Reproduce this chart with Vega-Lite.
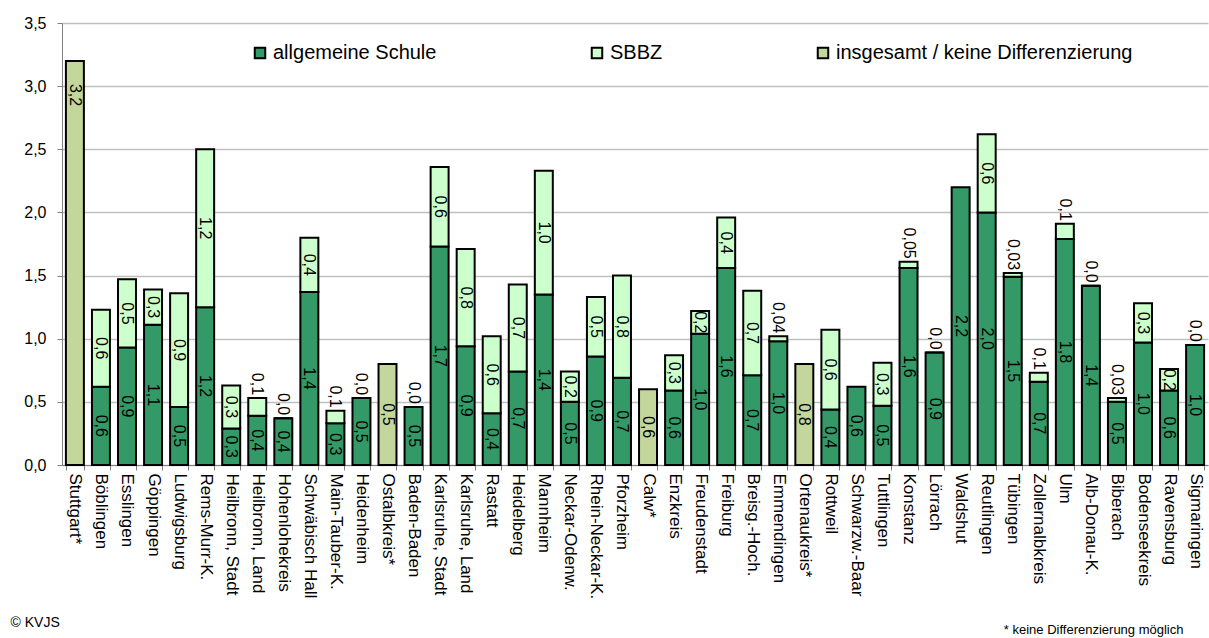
{
  "$schema": "https://vega.github.io/schema/vega-lite/v6.json",
  "autosize": "none",
  "width": 1146,
  "height": 442,
  "padding": {"left": 62, "top": 23, "right": 1, "bottom": 173},
  "background": "white",
  "config": {
    "view": {"stroke": null},
    "font": "Liberation Sans",
    "text": {"font": "Liberation Sans"}
  },
  "data": {
    "values": [
      {"k": "Stuttgart*", "t": "insgesamt / keine Differenzierung", "v": 3.2, "l": "3,2"},
      {"k": "Böblingen", "t": "allgemeine Schule", "v": 0.62, "l": "0,6"},
      {"k": "Böblingen", "t": "SBBZ", "v": 0.61, "l": "0,6"},
      {"k": "Esslingen", "t": "allgemeine Schule", "v": 0.93, "l": "0,9"},
      {"k": "Esslingen", "t": "SBBZ", "v": 0.54, "l": "0,5"},
      {"k": "Göppingen", "t": "allgemeine Schule", "v": 1.11, "l": "1,1"},
      {"k": "Göppingen", "t": "SBBZ", "v": 0.28, "l": "0,3"},
      {"k": "Ludwigsburg", "t": "allgemeine Schule", "v": 0.46, "l": "0,5"},
      {"k": "Ludwigsburg", "t": "SBBZ", "v": 0.9, "l": "0,9"},
      {"k": "Rems-Murr-K.", "t": "allgemeine Schule", "v": 1.25, "l": "1,2"},
      {"k": "Rems-Murr-K.", "t": "SBBZ", "v": 1.25, "l": "1,2"},
      {"k": "Heilbronn, Stadt", "t": "allgemeine Schule", "v": 0.29, "l": "0,3"},
      {"k": "Heilbronn, Stadt", "t": "SBBZ", "v": 0.34, "l": "0,3"},
      {"k": "Heilbronn, Land", "t": "allgemeine Schule", "v": 0.39, "l": "0,4"},
      {"k": "Heilbronn, Land", "t": "SBBZ", "v": 0.14, "l": "0,1"},
      {"k": "Hohenlohekreis", "t": "allgemeine Schule", "v": 0.37, "l": "0,4"},
      {"k": "Hohenlohekreis", "t": "SBBZ", "v": 0, "l": "0,0"},
      {"k": "Schwäbisch Hall", "t": "allgemeine Schule", "v": 1.37, "l": "1,4"},
      {"k": "Schwäbisch Hall", "t": "SBBZ", "v": 0.43, "l": "0,4"},
      {"k": "Main-Tauber-K.", "t": "allgemeine Schule", "v": 0.33, "l": "0,3"},
      {"k": "Main-Tauber-K.", "t": "SBBZ", "v": 0.1, "l": "0,1"},
      {"k": "Heidenheim", "t": "allgemeine Schule", "v": 0.53, "l": "0,5"},
      {"k": "Heidenheim", "t": "SBBZ", "v": 0, "l": "0,0"},
      {"k": "Ostalbkreis*", "t": "insgesamt / keine Differenzierung", "v": 0.8, "l": "0,5"},
      {"k": "Baden-Baden", "t": "allgemeine Schule", "v": 0.46, "l": "0,5"},
      {"k": "Baden-Baden", "t": "SBBZ", "v": 0, "l": "0,0"},
      {"k": "Karlsruhe, Stadt", "t": "allgemeine Schule", "v": 1.73, "l": "1,7"},
      {"k": "Karlsruhe, Stadt", "t": "SBBZ", "v": 0.63, "l": "0,6"},
      {"k": "Karlsruhe, Land", "t": "allgemeine Schule", "v": 0.94, "l": "0,9"},
      {"k": "Karlsruhe, Land", "t": "SBBZ", "v": 0.77, "l": "0,8"},
      {"k": "Rastatt", "t": "allgemeine Schule", "v": 0.41, "l": "0,4"},
      {"k": "Rastatt", "t": "SBBZ", "v": 0.61, "l": "0,6"},
      {"k": "Heidelberg", "t": "allgemeine Schule", "v": 0.74, "l": "0,7"},
      {"k": "Heidelberg", "t": "SBBZ", "v": 0.69, "l": "0,7"},
      {"k": "Mannheim", "t": "allgemeine Schule", "v": 1.35, "l": "1,4"},
      {"k": "Mannheim", "t": "SBBZ", "v": 0.98, "l": "1,0"},
      {"k": "Neckar-Odenw.", "t": "allgemeine Schule", "v": 0.5, "l": "0,5"},
      {"k": "Neckar-Odenw.", "t": "SBBZ", "v": 0.24, "l": "0,2"},
      {"k": "Rhein-Neckar-K.", "t": "allgemeine Schule", "v": 0.86, "l": "0,9"},
      {"k": "Rhein-Neckar-K.", "t": "SBBZ", "v": 0.47, "l": "0,5"},
      {"k": "Pforzheim", "t": "allgemeine Schule", "v": 0.69, "l": "0,7"},
      {"k": "Pforzheim", "t": "SBBZ", "v": 0.81, "l": "0,8"},
      {"k": "Calw*", "t": "insgesamt / keine Differenzierung", "v": 0.6, "l": "0,6"},
      {"k": "Enzkreis", "t": "allgemeine Schule", "v": 0.59, "l": "0,6"},
      {"k": "Enzkreis", "t": "SBBZ", "v": 0.28, "l": "0,3"},
      {"k": "Freudenstadt", "t": "allgemeine Schule", "v": 1.04, "l": "1,0"},
      {"k": "Freudenstadt", "t": "SBBZ", "v": 0.18, "l": "0,2"},
      {"k": "Freiburg", "t": "allgemeine Schule", "v": 1.56, "l": "1,6"},
      {"k": "Freiburg", "t": "SBBZ", "v": 0.4, "l": "0,4"},
      {"k": "Breisg.-Hoch.", "t": "allgemeine Schule", "v": 0.71, "l": "0,7"},
      {"k": "Breisg.-Hoch.", "t": "SBBZ", "v": 0.67, "l": "0,7"},
      {"k": "Emmendingen", "t": "allgemeine Schule", "v": 0.98, "l": "1,0"},
      {"k": "Emmendingen", "t": "SBBZ", "v": 0.04, "l": "0,04"},
      {"k": "Ortenaukreis*", "t": "insgesamt / keine Differenzierung", "v": 0.8, "l": "0,8"},
      {"k": "Rottweil", "t": "allgemeine Schule", "v": 0.44, "l": "0,4"},
      {"k": "Rottweil", "t": "SBBZ", "v": 0.63, "l": "0,6"},
      {"k": "Schwarzw.-Baar", "t": "allgemeine Schule", "v": 0.62, "l": "0,6"},
      {"k": "Tuttlingen", "t": "allgemeine Schule", "v": 0.47, "l": "0,5"},
      {"k": "Tuttlingen", "t": "SBBZ", "v": 0.34, "l": "0,3"},
      {"k": "Konstanz", "t": "allgemeine Schule", "v": 1.56, "l": "1,6"},
      {"k": "Konstanz", "t": "SBBZ", "v": 0.05, "l": "0,05"},
      {"k": "Lörrach", "t": "allgemeine Schule", "v": 0.89, "l": "0,9"},
      {"k": "Lörrach", "t": "SBBZ", "v": 0, "l": "0,0"},
      {"k": "Waldshut", "t": "allgemeine Schule", "v": 2.2, "l": "2,2"},
      {"k": "Reutlingen", "t": "allgemeine Schule", "v": 2.0, "l": "2,0"},
      {"k": "Reutlingen", "t": "SBBZ", "v": 0.62, "l": "0,6"},
      {"k": "Tübingen", "t": "allgemeine Schule", "v": 1.49, "l": "1,5"},
      {"k": "Tübingen", "t": "SBBZ", "v": 0.03, "l": "0,03"},
      {"k": "Zollernalbkreis", "t": "allgemeine Schule", "v": 0.66, "l": "0,7"},
      {"k": "Zollernalbkreis", "t": "SBBZ", "v": 0.07, "l": "0,1"},
      {"k": "Ulm", "t": "allgemeine Schule", "v": 1.79, "l": "1,8"},
      {"k": "Ulm", "t": "SBBZ", "v": 0.12, "l": "0,1"},
      {"k": "Alb-Donau-K.", "t": "allgemeine Schule", "v": 1.42, "l": "1,4"},
      {"k": "Alb-Donau-K.", "t": "SBBZ", "v": 0, "l": "0,0"},
      {"k": "Biberach", "t": "allgemeine Schule", "v": 0.5, "l": "0,5"},
      {"k": "Biberach", "t": "SBBZ", "v": 0.03, "l": "0,03"},
      {"k": "Bodenseekreis", "t": "allgemeine Schule", "v": 0.97, "l": "1,0"},
      {"k": "Bodenseekreis", "t": "SBBZ", "v": 0.31, "l": "0,3"},
      {"k": "Ravensburg", "t": "allgemeine Schule", "v": 0.59, "l": "0,6"},
      {"k": "Ravensburg", "t": "SBBZ", "v": 0.17, "l": "0,2"},
      {"k": "Sigmaringen", "t": "allgemeine Schule", "v": 0.95, "l": "1,0"},
      {"k": "Sigmaringen", "t": "SBBZ", "v": 0, "l": "0,0"}
    ]
  },
  "transform": [
    {"stack": "v", "groupby": ["k"], "sort": [{"field": "t", "order": "descending"}], "as": ["s0", "s1"]}
  ],
  "encoding": {
    "x": {
      "field": "k",
      "type": "nominal",
      "scale": {
        "domain": ["Stuttgart*", "Böblingen", "Esslingen", "Göppingen", "Ludwigsburg", "Rems-Murr-K.", "Heilbronn, Stadt", "Heilbronn, Land", "Hohenlohekreis", "Schwäbisch Hall", "Main-Tauber-K.", "Heidenheim", "Ostalbkreis*", "Baden-Baden", "Karlsruhe, Stadt", "Karlsruhe, Land", "Rastatt", "Heidelberg", "Mannheim", "Neckar-Odenw.", "Rhein-Neckar-K.", "Pforzheim", "Calw*", "Enzkreis", "Freudenstadt", "Freiburg", "Breisg.-Hoch.", "Emmendingen", "Ortenaukreis*", "Rottweil", "Schwarzw.-Baar", "Tuttlingen", "Konstanz", "Lörrach", "Waldshut", "Reutlingen", "Tübingen", "Zollernalbkreis", "Ulm", "Alb-Donau-K.", "Biberach", "Bodenseekreis", "Ravensburg", "Sigmaringen"],
        "paddingInner": 0.31,
        "paddingOuter": 0.15
      },
      "axis": {
        "title": "* keine Differenzierung möglich",
        "titleFont": "Liberation Sans",
        "titleFontSize": 13,
        "titleFontWeight": "normal",
        "titleColor": "black",
        "titleAlign": "right",
        "titleBaseline": "middle",
        "titleAnchor": null,
        "titleX": 1121,
        "titleY": 164,
        "labelAngle": 90,
        "labelAlign": "left",
        "labelBaseline": "middle",
        "labelFont": "Liberation Sans",
        "labelFontSize": 17,
        "labelColor": "black",
        "labelPadding": 3,
        "labelLimit": 300,
        "domainColor": "#808080",
        "tickColor": "#808080",
        "tickSize": 5,
        "tickBand": "extent",
        "grid": false
      }
    }
  },
  "layer": [
    {
      "mark": {"type": "bar", "stroke": "black", "strokeWidth": 2},
      "encoding": {
        "y": {
          "field": "s0",
          "type": "quantitative",
          "scale": {"domain": [0, 3.5], "nice": false},
          "axis": {
            "values": [0, 0.5, 1, 1.5, 2, 2.5, 3, 3.5],
            "labelExpr": "replace(format(datum.value, '.1f'), '.', ',')",
            "labelFont": "Liberation Sans",
            "labelFontSize": 16,
            "labelColor": "black",
            "labelPadding": 11,
            "tickSize": 5,
            "tickColor": "#808080",
            "domainColor": "#808080",
            "gridColor": "#c0c0c0",
            "gridWidth": 1.5,
            "title": "© KVJS",
            "titleFont": "Liberation Sans",
            "titleFontSize": 14,
            "titleFontWeight": "normal",
            "titleColor": "black",
            "titleAngle": 0,
            "titleAlign": "left",
            "titleBaseline": "middle",
            "titleAnchor": null,
            "titleX": -52,
            "titleY": 599
          }
        },
        "y2": {"field": "s1"},
        "color": {
          "field": "t",
          "type": "nominal",
          "scale": {
            "domain": ["allgemeine Schule", "SBBZ", "insgesamt / keine Differenzierung"],
            "range": ["#339966", "#CCFFCC", "#C3D69B"]
          },
          "legend": {
            "orient": "none",
            "legendX": 188,
            "legendY": 20,
            "direction": "horizontal",
            "columns": 3,
            "columnPadding": 150,
            "title": null,
            "symbolType": "square",
            "symbolSize": 110,
            "symbolStrokeColor": "black",
            "symbolStrokeWidth": 2,
            "symbolOpacity": 1,
            "labelFont": "Liberation Sans",
            "labelFontSize": 20,
            "labelColor": "black",
            "labelOffset": 3,
            "labelLimit": 500
          }
        }
      }
    },
    {
      "transform": [
        {"filter": "(datum.t != 'SBBZ' || datum.v >= 0.15) && datum.v < 3"},
        {"fold": ["s0", "s1"], "as": ["kk", "vv"]},
        {"aggregate": [{"op": "mean", "field": "vv", "as": "mid"}], "groupby": ["k", "t", "l"]}
      ],
      "mark": {"type": "text", "angle": 90, "align": "center", "baseline": "middle", "fontSize": 16, "color": "black"},
      "encoding": {
        "y": {"field": "mid", "type": "quantitative"},
        "text": {"field": "l"}
      }
    },
    {
      "transform": [{"filter": "datum.t == 'SBBZ' && datum.v < 0.15"}],
      "mark": {"type": "text", "angle": 90, "align": "right", "baseline": "middle", "dx": -3, "fontSize": 16, "color": "black"},
      "encoding": {
        "y": {"field": "s1", "type": "quantitative"},
        "text": {"field": "l"}
      }
    },
    {
      "transform": [{"filter": "datum.v >= 3"}],
      "mark": {"type": "text", "angle": 90, "align": "left", "baseline": "middle", "dx": 23, "fontSize": 16, "color": "black"},
      "encoding": {
        "y": {"field": "s1", "type": "quantitative"},
        "text": {"field": "l"}
      }
    }
  ]
}
